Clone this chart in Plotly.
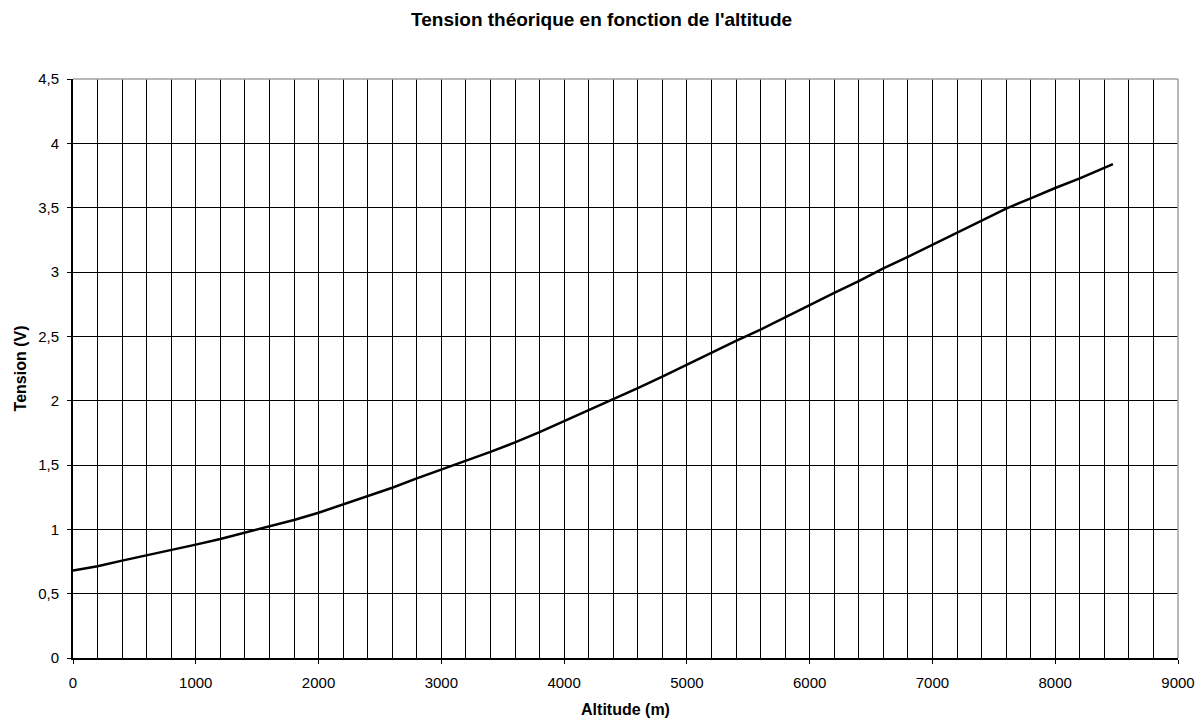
import plotly.graph_objects as go

# altitude (m) and theoretical voltage (V)
altitude = [0, 200, 400, 600, 800, 1000, 1200, 1400, 1600, 1800, 2000, 2200, 2400,
            2600, 2800, 3000, 3200, 3400, 3600, 3800, 4000, 4200, 4400, 4600, 4800,
            5000, 5200, 5400, 5600, 5800, 6000, 6200, 6400, 6600, 6800, 7000, 7200,
            7400, 7600, 7800, 8000, 8200, 8400, 8470]
tension = [0.68, 0.713, 0.757, 0.797, 0.837, 0.881, 0.925, 0.975, 1.02, 1.073, 1.129,
           1.192, 1.258, 1.323, 1.396, 1.463, 1.531, 1.602, 1.676, 1.755, 1.841,
           1.927, 2.008, 2.098, 2.187, 2.281, 2.373, 2.464, 2.553, 2.649, 2.742,
           2.838, 2.93, 3.028, 3.118, 3.213, 3.305, 3.398, 3.493, 3.572, 3.653,
           3.727, 3.81, 3.838]

FONT = "Liberation Sans, Arial, sans-serif"

fig = go.Figure(go.Scatter(x=altitude, y=tension, mode="lines",
                           line=dict(color="black", width=2.5), showlegend=False))

# the page body adds an 8px offset, margins are corrected for it
fig.update_layout(
    width=1204, height=723,
    margin=dict(l=65, r=34, t=71, b=73),
    paper_bgcolor="white", plot_bgcolor="white",
    separators=", ",
    font=dict(family=FONT, size=15, color="black"),
    title=dict(text="<b>Tension théorique en fonction de l'altitude</b>",
               x=0.493, xanchor="center", y=0.994, yanchor="top",
               pad=dict(t=0, b=0),
               font=dict(size=19, family=FONT, color="black")),
)

fig.update_xaxes(
    range=[0, 9000], dtick=1000, tickformat="d",
    showgrid=True, gridcolor="black", gridwidth=1,
    minor=dict(dtick=200, showgrid=True, gridcolor="black", gridwidth=1),
    showline=True, linecolor="black", linewidth=2,
    ticks="outside", ticklen=4, tickcolor="black", tickwidth=1,
    zeroline=False, ticklabelstandoff=6, automargin=False,
    title=dict(text="<b>Altitude (m)</b>", font=dict(size=16, family=FONT), standoff=14),
)
fig.update_yaxes(
    range=[0, 4.5], dtick=0.5,
    showgrid=True, gridcolor="black", gridwidth=1,
    showline=True, linecolor="black", linewidth=2,
    ticks="outside", ticklen=4, tickcolor="black", tickwidth=1,
    zeroline=False, ticklabelstandoff=5, automargin=False,
    title=dict(text="<b>Tension (V)</b>", font=dict(size=16, family=FONT), standoff=8),
)

# grey top and right border of the plot area
fig.add_shape(type="line", xref="paper", yref="paper", x0=0, x1=1, y0=1, y1=1,
              line=dict(color="#a0a0a0", width=1.5), layer="above")
fig.add_shape(type="line", xref="paper", yref="paper", x0=1, x1=1, y0=0, y1=1,
              line=dict(color="#a0a0a0", width=1.5), layer="above")

fig.write_html("out.html")
